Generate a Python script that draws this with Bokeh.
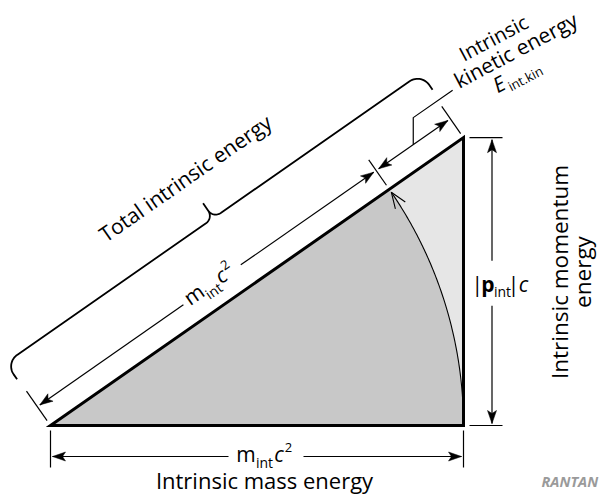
import math
import numpy as np
from bokeh.plotting import figure
from bokeh.models import Range1d
from bokeh.core.properties import value
from bokeh.embed import file_html
from bokeh.resources import INLINE

# ---- data (energies in units of the intrinsic mass energy m_int c^2) ----
quantity_names = ["Intrinsic mass energy", "Intrinsic momentum energy"]
quantity_values = [1.0, 0.697]          # m_int c^2 , |p_int| c
mass_energy, momentum_energy = quantity_values
total_energy = math.hypot(mass_energy, momentum_energy)
kinetic_energy = total_energy - mass_energy
title_total = "Total intrinsic energy"
kin_lines = ["Intrinsic", "kinetic energy"]
logo_text = "RANTAN"

# ---- layout ----
S = 413.0                      # pixels per energy unit
W, H = 606, 499
OX, OY = 50.0, 425.0           # origin position on the canvas
FONT = value("Open Sans")

p = figure(width=W, height=H, x_range=Range1d(-OX, W - OX), y_range=Range1d(-(H - OY), OY),
           output_backend="svg", toolbar_location=None, min_border=0,
           x_axis_type=None, y_axis_type=None)
p.grid.visible = False
p.outline_line_color = None
p.background_fill_color = "white"
p.border_fill_color = "white"

M = mass_energy * S
P = momentum_energy * S
T = total_energy * S
ang = math.atan2(P, M)
d = (math.cos(ang), math.sin(ang))
n = (-math.sin(ang), math.cos(ang))


def uv(u, v):
    return (u * d[0] + v * n[0], u * d[1] + v * n[1])


# ---- fills ----
p.patch([0, M, M], [0, 0, P], fill_color="#e6e6e6", line_color=None)
th = np.linspace(0, ang, 120)
p.patch([0] + list(M * np.cos(th)), [0] + list(M * np.sin(th)), fill_color="#c8c8c8", line_color=None)

# ---- arc with open arrow head ----
tip_th = ang - 3.5 / M
th2 = np.linspace(0, tip_th, 120)
p.line(M * np.cos(th2), M * np.sin(th2), line_color="black", line_width=1.1)
tip = (M * math.cos(tip_th), M * math.sin(tip_th))
tan = (-math.sin(tip_th), math.cos(tip_th))
perp = (-tan[1], tan[0])
Lh, wh = 16.0, 6.0
p.multi_line([[tip[0] - Lh * tan[0] + wh * perp[0], tip[0], tip[0] - Lh * tan[0] - wh * perp[0]]],
             [[tip[1] - Lh * tan[1] + wh * perp[1], tip[1], tip[1] - Lh * tan[1] - wh * perp[1]]],
             line_color="black", line_width=1.1)

# ---- triangle outline ----
p.patch([0, M, M], [0, 0, P], fill_color=None, line_color="black", line_width=3, line_join="miter")

# ---- dimension lines ----
seg_x, seg_y = [], []
head_x, head_y = [], []


def seg(a, b):
    seg_x.append([a[0], b[0]])
    seg_y.append([a[1], b[1]])


def head(t, u, L=13.0, hw=4.5, notch=3.0):
    pp = (-u[1], u[0])
    xs = [t[0], t[0] - L * u[0] + hw * pp[0], t[0] - (L - notch) * u[0], t[0] - L * u[0] - hw * pp[0]]
    ys = [t[1], t[1] - L * u[1] + hw * pp[1], t[1] - (L - notch) * u[1], t[1] - L * u[1] - hw * pp[1]]
    head_x.append(xs)
    head_y.append(ys)


def arrow(a, b, gap=None):
    vx, vy = b[0] - a[0], b[1] - a[1]
    ln = math.hypot(vx, vy)
    u = (vx / ln, vy / ln)
    if gap:
        seg(a, (a[0] + gap[0] * u[0], a[1] + gap[0] * u[1]))
        seg((a[0] + gap[1] * u[0], a[1] + gap[1] * u[1]), b)
    else:
        seg(a, b)
    head(a, (-u[0], -u[1]))
    head(b, u)


# bottom
arrow((2, -31), (M - 2, -31), gap=(176, 251))
seg((0, -5), (0, -42))
seg((M, -5), (M, -42))
# right
xr = M + 28.5
arrow((xr, P - 2), (xr, 2), gap=(121, 166))
seg((M + 6, 0), (M + 39, 0))
seg((M + 6, P), (M + 39, P))
# along hypotenuse
arrow(uv(3, 23), uv(M - 3, 23), gap=(175, 245))
arrow(uv(M + 3, 23), uv(T - 3, 23))
seg(uv(0, 6), uv(0, 42))
seg(uv(M, 5), uv(M, 36))
seg(uv(T, 5), uv(T, 38))
# leader for kinetic label
P0 = uv((M + T) / 2, 23)
P1 = (P0[0], P0[1] + 27)
P2 = (P1[0] + 48 * d[0], P1[1] + 48 * d[1])
seg_x.append([P0[0], P1[0], P2[0]])
seg_y.append([P0[1], P1[1], P2[1]])

p.multi_line(seg_x, seg_y, line_color="black", line_width=1.2)
p.patches(head_x, head_y, fill_color="black", line_color="black", line_width=0.5)

# ---- curly brace ----
r1, r2 = 14.0, 9.0
vm, ve, vt = 77.0, 57.0, 95.0
u0, u1 = -1.0, T + 2.0
mid = (u0 + u1) / 2
left = [(u0, ve), (u0, vm - r1)]
for phi in np.linspace(math.pi, math.pi / 2, 16):
    left.append((u0 + r1 + r1 * math.cos(phi), vm - r1 + r1 * math.sin(phi)))
for phi in np.linspace(-math.pi / 2, 0, 16):
    left.append((mid - r2 + r2 * math.cos(phi), vm + r2 + r2 * math.sin(phi)))
left.append((mid, vt))
right = [(2 * mid - a, b) for a, b in reversed(left)]
pts = left + right[1:]
bxy = [uv(a, b) for a, b in pts]
p.line([q[0] for q in bxy], [q[1] for q in bxy], line_color="black", line_width=1.8)


# ---- texts ----
def txt(x, y, s, size=20, angle=0.0, style="normal", align="center", color="black"):
    # lift along the text's own "up" direction so the glyph baseline lands on (x, y)
    k = 0.38 * size
    x += -math.sin(angle) * k
    y += math.cos(angle) * k
    p.text(x=[x], y=[y], text=[s], angle=angle, text_font=FONT, text_font_size=f"{size}px",
           text_font_style=style, text_align=align, text_baseline="alphabetic", text_color=color)


# bottom label m_int c^2
bx = 214.0
txt(bx - 18.5, -36, "m", size=21)
txt(bx, -42, "int", size=14)
txt(bx + 14.5, -36, "c", size=21, style="italic")
txt(bx + 24, -27, "2", size=13)
txt(214, -63, quantity_names[0], size=22)

# rotated m_int c^2
cu, cv = 211.0, 18.0
for du, dv, s, sz, st in [(-18.5, 0, "m", 21, "normal"), (0, -6, "int", 14, "normal"),
                          (14.5, 0, "c", 21, "italic"), (24, 9, "2", 13, "normal")]:
    x, y = uv(cu + du, cv + dv)
    txt(x, y, s, size=sz, angle=ang, style=st)

# |p_int| c
yb = 133.3
txt(426.7, yb, "|", size=21)
txt(437.5, yb, "p", size=21, style="bold")
txt(452.0, yb - 5, "int", size=14)
txt(463.0, yb, "|", size=21)
txt(473.0, yb, "c", size=21, style="italic")

# vertical label
txt(518, 153.5, "Intrinsic momentum", size=22.5, angle=math.pi / 2)
txt(541, 153.5, "energy", size=22.5, angle=math.pi / 2)

# total intrinsic energy
x, y = uv(252, 118)
txt(x, y, title_total, size=21, angle=ang)

# kinetic label (less steep than the hypotenuse)
ka = math.radians(28)
ad = (math.cos(ka), math.sin(ka))       # along, in plot frame
dn = (math.sin(ka), -math.cos(ka))      # "down" of the text, in plot frame


def kpos(bx_, by_, a=0.0, down=0.0):
    X, Y = bx_ - OX, OY - by_
    return X + a * ad[0] + down * dn[0], Y + a * ad[1] + down * dn[1]


x, y = kpos(496.5, 44.0)
txt(x, y, kin_lines[0], size=20, angle=ka)
x, y = kpos(519.0, 56.5)
txt(x, y, kin_lines[1], size=21, angle=ka)
x, y = kpos(518.0, 82.0, a=-18.0)
txt(x, y, "E", size=21, angle=ka, style="italic")
x, y = kpos(518.0, 82.0, a=8.0, down=4.5)
txt(x, y, "int.kin", size=13, angle=ka)

# logo
txt(491, -62, logo_text, size=14.5, style="bold italic", align="left", color="#9a9a9a")

open("out.html", "w").write(file_html(p, INLINE))
